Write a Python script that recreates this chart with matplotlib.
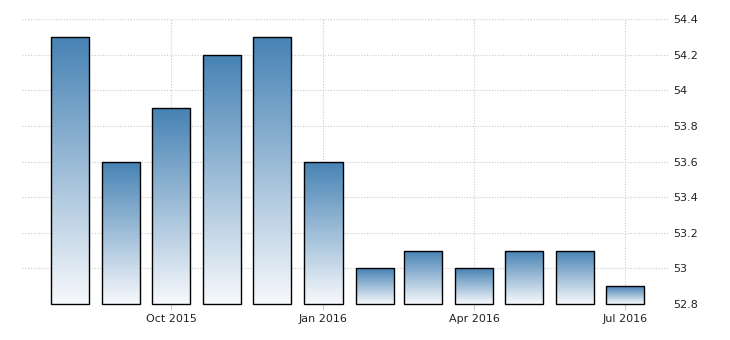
import numpy as np
import matplotlib.pyplot as plt
import matplotlib.dates as mdates
from matplotlib.colors import LinearSegmentedColormap
from matplotlib.patches import Rectangle
import datetime as dt

# monthly values, Aug 2015 - Jul 2016
months = [dt.date(2015, 8, 1), dt.date(2015, 9, 1), dt.date(2015, 10, 1), dt.date(2015, 11, 1),
          dt.date(2015, 12, 1), dt.date(2016, 1, 1), dt.date(2016, 2, 1), dt.date(2016, 3, 1),
          dt.date(2016, 4, 1), dt.date(2016, 5, 1), dt.date(2016, 6, 1), dt.date(2016, 7, 1)]
values = [54.3, 53.6, 53.9, 54.2, 54.3, 53.6, 53.0, 53.1, 53.0, 53.1, 53.1, 52.9]
tick_dates = [dt.date(2015, 10, 1), dt.date(2016, 1, 1), dt.date(2016, 4, 1), dt.date(2016, 7, 1)]
tick_labels = ["Oct 2015", "Jan 2016", "Apr 2016", "Jul 2016"]
y_ticks = [52.8, 53, 53.2, 53.4, 53.6, 53.8, 54, 54.2, 54.4]
y_labels = ["52.8", "53", "53.2", "53.4", "53.6", "53.8", "54", "54.2", "54.4"]

base = 52.8
bar_days = 23

fig = plt.figure(figsize=(7.3, 3.4), dpi=100)
ax = fig.add_axes([22 / 730, 1 - 304 / 340, (668 - 22) / 730, (304 - 19) / 340])

cmap = LinearSegmentedColormap.from_list("grad", ["#f7f9fc", "#4682b4"])
grad = np.linspace(0, 1, 256).reshape(-1, 1)

x = mdates.date2num(months)
for xi, v in zip(x, values):
    left = xi - bar_days / 2
    im = ax.imshow(grad, cmap=cmap, origin="lower", aspect="auto",
                   extent=[left, left + bar_days, base, v], zorder=2)
    rect = Rectangle((left, base), bar_days, v - base, facecolor="none",
                     edgecolor="black", linewidth=1.0, joinstyle="miter", zorder=3,
                     clip_on=False)
    ax.add_patch(rect)
    im.set_clip_path(rect)

ax.set_xlim(mdates.date2num(dt.date(2015, 7, 3)), mdates.date2num(dt.date(2016, 7, 27)))
ax.set_ylim(52.8, 54.4)

ax.set_xticks(mdates.date2num(tick_dates))
ax.set_xticklabels(tick_labels)
ax.set_yticks(y_ticks)
ax.set_yticklabels(y_labels)
ax.yaxis.tick_right()

ax.grid(True, color="#cccccc", linestyle=(0, (1, 1.5)), linewidth=0.8, zorder=0)
ax.set_axisbelow(True)
for s in ax.spines.values():
    s.set_visible(False)
ax.tick_params(axis="x", length=4, color="#cccccc", labelsize=8, labelcolor="#222222", pad=3)
ax.tick_params(axis="y", length=0, labelsize=8, labelcolor="#222222", pad=4)

plt.savefig("out.png", dpi=100)
